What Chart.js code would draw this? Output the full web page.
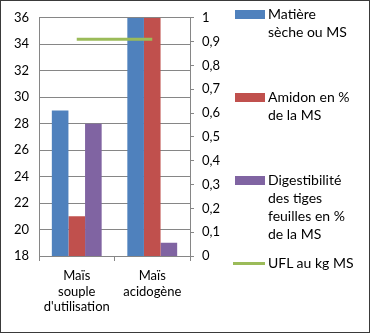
<!DOCTYPE html>
<html>
<head>
<meta charset="utf-8">
<script src="https://cdn.jsdelivr.net/npm/chart.js@4"></script>
<style>
  body { margin: 0; background: #fff; }
  #wrap { position: relative; width: 370px; height: 333px; font-family: Lato, 'Open Sans', sans-serif; }
  #frame { position: absolute; left: 0; top: 0; width: 368px; height: 331px; border: 1px solid #3a3a3a; pointer-events: none; }
  #legend { position: absolute; left: 233px; top: 5px; width: 118px; font-size: 14px; line-height: 18px; color: #000; }
  .item { position: relative; height: 83px; padding-left: 35px; }
  .item.nowrap { white-space: nowrap; }
  .sw { position: absolute; left: 2px; top: 5px; width: 30px; height: 9px; }
  .sw.line { left: 0; top: 8px; width: 32px; height: 3px; }
</style>
</head>
<body>
<div id="wrap">
  <canvas id="c" width="370" height="333"></canvas>
  <div id="legend"></div>
  <div id="frame"></div>
</div>
<script>
(function () {
    // Données
    const categories = [['Maïs', 'souple', "d'utilisation"], ['Maïs', 'acidogène']];
    const matiereSeche = [29, 36];
    const amidon = [21, 36];
    const digestibilite = [28, 19];
    const ufl = [0.91, 0.91];
    const seriesLabels = ['Matière sèche ou MS', 'Amidon en % de la MS', 'Digestibilité des tiges feuilles en % de la MS', 'UFL au kg MS'];

    const grid = '#868686';
    const font = { family: 'Lato', size: 13 };

    const chart = new Chart(document.getElementById('c'), {
        type: 'bar',
        data: {
            labels: categories,
            datasets: [
                { label: seriesLabels[0], data: matiereSeche, backgroundColor: '#4F81BD', yAxisID: 'y', order: 2 },
                { label: seriesLabels[1], data: amidon, backgroundColor: '#C0504D', yAxisID: 'y', order: 2 },
                { label: seriesLabels[2], data: digestibilite, backgroundColor: '#8064A2', yAxisID: 'y', order: 2 },
                { type: 'line', label: seriesLabels[3], data: ufl, borderColor: '#9BBB59', backgroundColor: '#9BBB59',
                  borderWidth: 3, pointRadius: 0, yAxisID: 'y1', order: 1 }
            ]
        },
        options: {
            responsive: false,
            animation: false,
            layout: { padding: { top: 17, left: 0, right: 0, bottom: 0 } },
            datasets: { bar: { barPercentage: 1, categoryPercentage: 0.66 } },
            plugins: { legend: { display: false }, tooltip: { enabled: false } },
            scales: {
                x: {
                    grid: { offset: true, drawOnChartArea: false, color: grid, tickLength: 5 },
                    border: { color: grid },
                    ticks: { color: '#000', font: font, padding: 7, maxRotation: 0, autoSkip: false },
                    afterFit: function (s) { s.height = 77; }
                },
                y: {
                    position: 'left',
                    min: 18, max: 36,
                    grid: { color: grid, drawTicks: false },
                    border: { color: grid },
                    ticks: { stepSize: 2, color: '#000', font: font, padding: 10 },
                    afterFit: function (s) { s.width = 39; }
                },
                y1: {
                    position: 'right',
                    min: 0, max: 1,
                    grid: { drawOnChartArea: false, color: grid, tickLength: 4 },
                    border: { color: grid },
                    ticks: {
                        stepSize: 0.1, color: '#000', font: font, padding: 8,
                        callback: function (v) { return String(Math.round(v * 10) / 10).replace('.', ','); }
                    },
                    afterFit: function (s) { s.width = 180; }
                }
            }
        }
    });

    // Légende HTML à droite
    const legend = document.getElementById('legend');
    chart.data.datasets.forEach(function (ds) {
        const item = document.createElement('div');
        item.className = ds.type === 'line' ? 'item nowrap' : 'item';
        const sw = document.createElement('span');
        sw.className = ds.type === 'line' ? 'sw line' : 'sw';
        sw.style.background = ds.backgroundColor;
        item.appendChild(sw);
        item.appendChild(document.createTextNode(ds.label));
        legend.appendChild(item);
    });
})();
</script>
</body>
</html>
